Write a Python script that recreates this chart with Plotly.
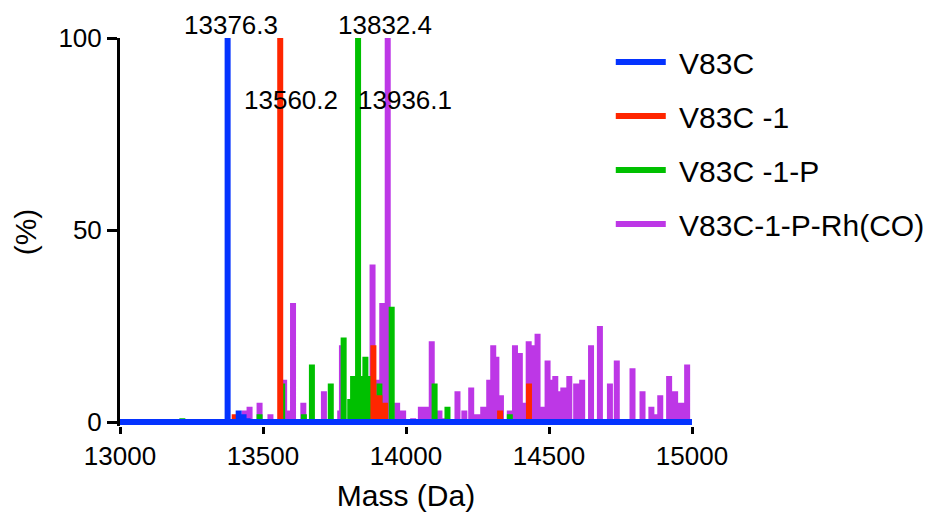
import plotly.graph_objects as go

# Deconvoluted mass spectra (relative intensity, %)
blue_mass = [13266, 13350, 13376.3, 13415, 13432, 13446]
blue_int = [0.5, 0.5, 100, 3, 2, 1]

red_mass = [13401, 13560.2, 13886, 13907, 13927, 14329, 14430]
red_int = [2, 100, 20, 7, 5, 3, 10]

green_mass = [13218, 13488, 13567, 13643, 13671, 13737, 13782, 13805, 13815,
              13832.4, 13843, 13858, 13872, 13907, 13950, 14100, 14145, 14363]
green_int = [1, 2, 10, 2, 15, 10, 22, 6, 12,
             100, 12, 17, 12, 10, 30, 10, 4, 2]

purple_mass = [13436, 13453, 13488, 13526, 13574, 13585, 13605, 13641, 13713,
               13770, 13776, 13883, 13903, 13917, 13936.1, 13969, 13990, 14025,
               14052, 14070, 14090, 14117, 14132, 14180, 14204, 14228, 14249,
               14270, 14291, 14305, 14316, 14332, 14363, 14381, 14398, 14415,
               14429, 14443, 14460, 14474, 14495, 14509, 14522, 14535, 14550,
               14571, 14595, 14616, 14647, 14678, 14713, 14737, 14792, 14827,
               14858, 14868, 14889, 14920, 14941, 14962, 14983]
purple_int = [3, 4, 5, 2, 11, 3, 31, 5, 8,
              3, 20, 41, 11, 31, 100, 5, 3, 1,
              4, 4, 21, 3, 1, 8, 3, 9, 2,
              4, 11, 20, 17, 7, 3, 20, 18, 5,
              21, 20, 23, 4, 16, 11, 12, 8, 9,
              12, 10, 11, 20, 25, 10, 16, 14, 8,
              4, 2, 7, 12, 8, 5, 15]

# Labelled main peaks
peak_labels = ["13376.3", "13560.2", "13832.4", "13936.1"]
peak_mass = [13376.3, 13560.2, 13832.4, 13936.1]
peak_int = [100, 100, 100, 100]

x_ticks = [13000, 13500, 14000, 14500, 15000]
y_ticks = [0, 50, 100]

# drawn bottom to top; legendrank sets the legend order (blue first)
series = [
    ("V83C-1-P-Rh(CO)", purple_mass, purple_int, "#BD37E6", 4),
    ("V83C -1-P", green_mass, green_int, "#00C000", 3),
    ("V83C -1", red_mass, red_int, "#FF2600", 2),
    ("V83C", blue_mass, blue_int, "#0433FF", 1),
]

X_MIN, X_MAX = 13000, 15000
Y_MIN, Y_MAX = -1.04, 100


def stick_path(masses, intens):
    """Baseline at 0 with a vertical stick rising to each peak."""
    xs, ys = [X_MIN], [0]
    for m, v in sorted(zip(masses, intens)):
        xs += [m, m, m]
        ys += [0, v, 0]
    xs.append(X_MAX)
    ys.append(0)
    return xs, ys


fig = go.Figure()
for name, m, v, c, rank in series:
    xs, ys = stick_path(m, v)
    fig.add_trace(go.Scatter(
        x=xs, y=ys, mode="lines", name="\u00a0" + name, legendgroup=name,
        legendrank=rank, line=dict(color=c, width=6, simplify=False),
    ))

font_family = "Liberation Sans, Arial, sans-serif"

label_shift = [(3, 13), (11, -62), (27, 13), (17, -62)]
for txt, m, v, (dx, dy) in zip(peak_labels, peak_mass, peak_int, label_shift):
    fig.add_annotation(
        x=m, y=v, text=txt, showarrow=False, xshift=dx, yshift=dy,
        xanchor="center", yanchor="middle",
        font=dict(size=26, color="black", family=font_family),
    )

fig.update_layout(
    template="none",
    width=942, height=515,
    margin=dict(l=120, r=244, t=38, b=89),
    plot_bgcolor="white", paper_bgcolor="white",
    font=dict(family=font_family, color="black"),
    showlegend=True,
    legend=dict(
        x=0.858, y=1.005, xanchor="left", yanchor="top",
        traceorder="grouped", tracegroupgap=12,
        font=dict(size=30, color="black", family=font_family),
        itemwidth=50, bgcolor="rgba(0,0,0,0)",
    ),
    xaxis=dict(
        range=[X_MIN, X_MAX], tickmode="array", tickvals=x_ticks,
        ticktext=[str(t) for t in x_ticks],
        showgrid=False, zeroline=False, showline=False,
        ticks="outside", ticklen=7, tickwidth=3, tickcolor="black",
        tickfont=dict(size=26),
        title=dict(text="Mass (Da)", font=dict(size=30), standoff=14),
    ),
    yaxis=dict(
        range=[Y_MIN, Y_MAX], tickmode="array", tickvals=y_ticks,
        ticktext=[str(t) for t in y_ticks],
        showgrid=False, zeroline=False, showline=True, linewidth=3, linecolor="black",
        ticks="outside", ticklen=10, tickwidth=3, tickcolor="black",
        tickfont=dict(size=26),
        title=dict(text="(%)", font=dict(size=30), standoff=13),
    ),
)

fig.write_html("out.html")
